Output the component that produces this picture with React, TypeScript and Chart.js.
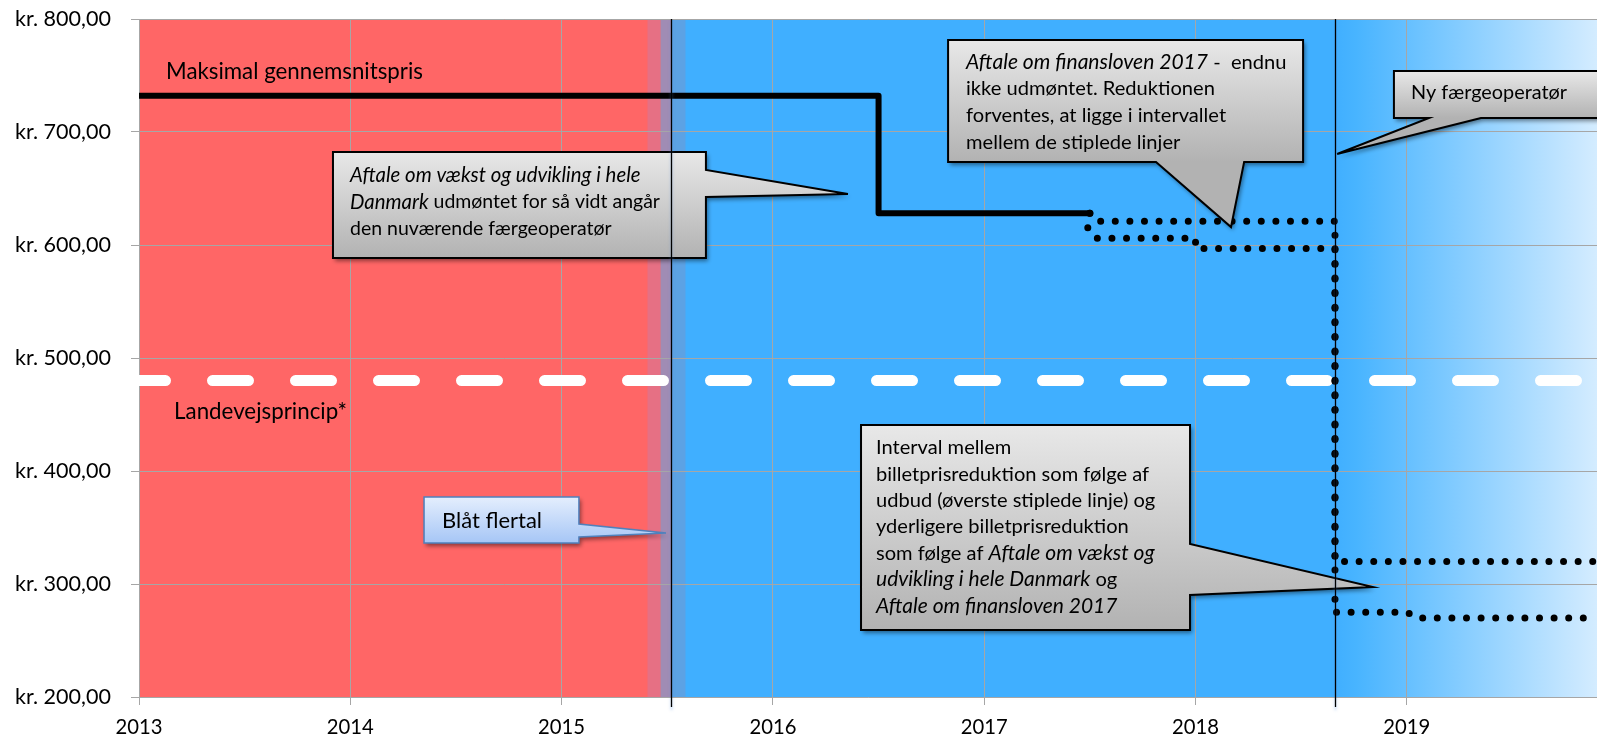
import React, { useEffect, useRef } from 'react';
import { Chart, registerables } from 'chart.js';

Chart.register(...registerables);

// ---------- data ----------
const xTickYears = [2013, 2014, 2015, 2016, 2017, 2018, 2019];
const xTickLabels = ['2013', '2014', '2015', '2016', '2017', '2018', '2019'];
const yTickValues = [200, 300, 400, 500, 600, 700, 800];
const yTickLabels = ['kr. 200,00', 'kr. 300,00', 'kr. 400,00', 'kr. 500,00', 'kr. 600,00', 'kr. 700,00', 'kr. 800,00'];
const xRange = [2013, 2019.9];
const yRange = [200, 800];

// Maksimal gennemsnitspris (solid)
const maxPriceX = [2013, 2016.5, 2016.5, 2017.5];
const maxPriceY = [732, 732, 628, 628];
// upper dotted (udbud)
const upperX = [2017.5, 2017.53, 2018.66, 2018.66, 2019.9];
const upperY = [628, 621, 621, 320, 320];
// lower dotted (udbud + aftaler)
const lowerX = [2017.5, 2017.49, 2017.53, 2018.0, 2018.0, 2018.66, 2018.66, 2019.0, 2019.05, 2019.9];
const lowerY = [628, 615, 606, 606, 597, 597, 275, 275, 270, 270];
// Landevejsprincip (dashed)
const roadX = [2013, 2019.9];
const roadY = [480, 480];
// periods: red until election, blue until new operator, then fade
const eventYears = [2015.52, 2018.66];

// ---------- annotations (positions in data units) ----------
type Run = [string, boolean];
type Callout = {
  box: [number, number, number, number]; // x1, yTop, x2, yBottom
  ptr: { side: 'right' | 'bottom'; a: number; b: number; tip: [number, number] };
  text: [number, number];
  lineH: number;
  fit: [number, number]; // line index, target width in px (for font sizing)
  lines: Run[][];
  blue?: boolean;
};

const callouts: Callout[] = [
  {
    box: [2013.918, 682.3, 2015.683, 588.5],
    ptr: { side: 'right', a: 666.4, b: 642.5, tip: [2016.355, 645.1] },
    text: [2013.999, 661.9],
    lineH: 27,
    fit: [1, 310],
    lines: [
      [['Aftale om vækst og udvikling i hele', true]],
      [['Danmark', true], [' udmøntet for så vidt angår', false]],
      [['den nuværende færgeoperatør', false]],
    ],
  },
  {
    box: [2016.829, 781.4, 2018.509, 673.5],
    ptr: { side: 'bottom', a: 2017.813, b: 2018.23, tip: [2018.168, 615.9] },
    text: [2016.914, 761.9],
    lineH: 26.7,
    fit: [1, 249],
    lines: [
      [['Aftale om finansloven 2017', true], [' -  endnu', false]],
      [['ikke udmøntet. Reduktionen', false]],
      [['forventes, at ligge i intervallet', false]],
      [['mellem de stiplede linjer', false]],
    ],
  },
  {
    box: [2018.939, 754.0, 2020.2, 712.4],
    ptr: { side: 'bottom', a: 2019.105, b: 2019.351, tip: [2018.67, 680.5] },
    text: [2019.02, 734.5],
    lineH: 26,
    fit: [0, 156],
    lines: [[['Ny færgeoperatør', false]]],
  },
  {
    box: [2016.417, 440.7, 2017.974, 259.3],
    ptr: { side: 'right', a: 335.4, b: 290.3, tip: [2018.84, 297.3] },
    text: [2016.488, 420.4],
    lineH: 26.3,
    fit: [1, 273],
    lines: [
      [['Interval mellem', false]],
      [['billetprisreduktion som følge af', false]],
      [['udbud (øverste stiplede linje) og', false]],
      [['yderligere billetprisreduktion', false]],
      [['som følge af ', false], ['Aftale om vækst og', true]],
      [['udvikling i hele Danmark', true], [' og', false]],
      [['Aftale om finansloven 2017', true]],
    ],
  },
  {
    box: [2014.349, 377.0, 2015.082, 336.3],
    ptr: { side: 'right', a: 353.1, b: 341.6, tip: [2015.494, 345.1] },
    text: [2014.434, 355.8],
    lineH: 26,
    fit: [0, 100],
    lines: [[['Blåt flertal', false]]],
    blue: true,
  },
];

const freeLabels: { text: string; at: [number, number]; width: number }[] = [
  { text: 'Maksimal gennemsnitspris', at: [2013.128, 753.1], width: 257 },
  { text: 'Landevejsprincip*', at: [2013.166, 452.2], width: 173 },
];

// ---------- styles ----------
const FONT = 'Lato, "Open Sans", sans-serif';
const Y_LABEL_WIDTH = 96; // width of "kr. 800,00" in px
const X_LABEL_WIDTH = 47; // width of "2013" in px
const ITALIC_CAL: [string, number] = ['Aftale om vækst og udvikling i hele', 303];
const REGULAR_CAL: [string, number] = ['den nuværende færgeoperatør', 273];
const RED = 'rgb(255,102,102)';
const BLUE = 'rgb(64,175,255)';
const GRID = '#a6a6a6';

const pts = (xs: number[], ys: number[]) => xs.map((x, i) => ({ x, y: ys[i] }));

function fontOf(size: number, italic: boolean, itScale: number) {
  return italic ? `italic ${(size * itScale).toFixed(2)}px ${FONT}` : `${size.toFixed(2)}px ${FONT}`;
}

function runsWidth(ctx: CanvasRenderingContext2D, runs: Run[], size: number, itScale: number) {
  let w = 0;
  for (const [t, it] of runs) {
    ctx.font = fontOf(size, it, itScale);
    w += ctx.measureText(t).width;
  }
  return w;
}

function fitSize(ctx: CanvasRenderingContext2D, runs: Run[], target: number, itScale: number, fallback: number) {
  const base = 20;
  const w = runsWidth(ctx, runs, base, itScale);
  if (!w || !isFinite(w)) return fallback;
  const s = (base * target) / w;
  return Math.min(Math.max(s, fallback * 0.75), fallback * 1.3);
}

function drawRuns(ctx: CanvasRenderingContext2D, runs: Run[], x: number, y: number, size: number, itScale: number) {
  let cx = x;
  for (const [t, it] of runs) {
    ctx.font = fontOf(size, it, itScale);
    ctx.fillText(t, cx, y);
    cx += ctx.measureText(t).width;
  }
}

export default function App() {
  const ref = useRef<HTMLCanvasElement>(null);

  useEffect(() => {
    document.body.style.margin = '0';
    const canvas = ref.current!;
    const mctx = canvas.getContext('2d')!;

    // font sizing from reference text widths
    const regCal = fitSize(mctx, [[REGULAR_CAL[0], false]], REGULAR_CAL[1], 1, 19.5);
    const itCal = fitSize(mctx, [[ITALIC_CAL[0], true]], ITALIC_CAL[1], 1, 18.5);
    const itScale = Math.min(Math.max(itCal / regCal, 0.8), 1.1);
    const calloutSizes = callouts.map((c) => fitSize(mctx, c.lines[c.fit[0]], c.fit[1], itScale, 19.5));
    const labelSizes = freeLabels.map((l) => fitSize(mctx, [[l.text, false]], l.width, 1, 21));
    const yFont = fitSize(mctx, [[yTickLabels[yTickLabels.length - 1], false]], Y_LABEL_WIDTH, 1, 22);
    const xFont = fitSize(mctx, [[xTickLabels[0], false]], X_LABEL_WIDTH, 1, 22);

    const bgPlugin = {
      id: 'bgPeriods',
      beforeDraw(chart: any) {
        const { ctx, chartArea: a, scales } = chart;
        const X = (v: number) => scales.x.getPixelForValue(v);
        const h = a.bottom - a.top;
        const e1 = X(eventYears[0]);
        const e2 = X(eventYears[1]);
        ctx.save();
        ctx.fillStyle = '#fff';
        ctx.fillRect(0, 0, chart.width, chart.height);
        ctx.fillStyle = RED;
        ctx.fillRect(a.left, a.top, e1 - a.left, h);
        ctx.fillStyle = BLUE;
        ctx.fillRect(e1, a.top, e2 - e1, h);
        ctx.fillStyle = 'rgb(230,112,132)';
        ctx.fillRect(e1 - 24, a.top, 13, h);
        ctx.fillStyle = 'rgb(160,140,180)';
        ctx.fillRect(e1 - 11, a.top, 11, h);
        ctx.fillStyle = 'rgb(92,162,228)';
        ctx.fillRect(e1, a.top, 14, h);
        const g = ctx.createLinearGradient(e2, 0, a.right, 0);
        g.addColorStop(0, BLUE);
        g.addColorStop(0.08, 'rgb(72,180,255)');
        g.addColorStop(1, 'rgb(212,236,255)');
        ctx.fillStyle = g;
        ctx.fillRect(e2, a.top, a.right - e2, h);
        ctx.restore();
      },
    };

    const annoPlugin = {
      id: 'annotations',
      afterDatasetsDraw(chart: any) {
        const { ctx, scales } = chart;
        const X = (v: number) => scales.x.getPixelForValue(v);
        const Y = (v: number) => scales.y.getPixelForValue(v);
        ctx.save();
        ctx.textBaseline = 'middle';
        ctx.fillStyle = '#000';
        freeLabels.forEach((l, i) => {
          ctx.font = fontOf(labelSizes[i], false, 1);
          ctx.fillText(l.text, X(l.at[0]), Y(l.at[1]));
        });
        callouts.forEach((c, ci) => {
          const x1 = X(c.box[0]), y1 = Y(c.box[1]), x2 = X(c.box[2]), y2 = Y(c.box[3]);
          const tx = X(c.ptr.tip[0]), ty = Y(c.ptr.tip[1]);
          ctx.beginPath();
          ctx.moveTo(x1, y1);
          ctx.lineTo(x2, y1);
          if (c.ptr.side === 'right') {
            ctx.lineTo(x2, Y(c.ptr.a));
            ctx.lineTo(tx, ty);
            ctx.lineTo(x2, Y(c.ptr.b));
            ctx.lineTo(x2, y2);
            ctx.lineTo(x1, y2);
          } else {
            ctx.lineTo(x2, y2);
            ctx.lineTo(X(c.ptr.b), y2);
            ctx.lineTo(tx, ty);
            ctx.lineTo(X(c.ptr.a), y2);
            ctx.lineTo(x1, y2);
          }
          ctx.closePath();
          const g = ctx.createLinearGradient(0, y1, 0, y2);
          if (c.blue) {
            g.addColorStop(0, 'rgb(228,238,253)');
            g.addColorStop(1, 'rgb(166,198,246)');
          } else {
            g.addColorStop(0, 'rgb(232,232,232)');
            g.addColorStop(1, 'rgb(178,178,178)');
          }
          ctx.save();
          ctx.shadowColor = 'rgba(0,0,0,0.45)';
          ctx.shadowBlur = 4;
          ctx.shadowOffsetX = 2;
          ctx.shadowOffsetY = 3;
          ctx.fillStyle = g;
          ctx.fill();
          ctx.restore();
          ctx.lineWidth = c.blue ? 1.5 : 2;
          ctx.strokeStyle = c.blue ? 'rgb(79,129,189)' : '#000';
          ctx.lineJoin = 'miter';
          ctx.stroke();
          ctx.fillStyle = '#000';
          const bx = X(c.text[0]);
          let by = Y(c.text[1]);
          for (const line of c.lines) {
            drawRuns(ctx, line, bx, by, calloutSizes[ci], itScale);
            by += c.lineH;
          }
        });
        ctx.restore();
      },
    };

    const eventPlugin = {
      id: 'eventLines',
      afterDatasetsDraw(chart: any) {
        const { ctx, chartArea: a, scales } = chart;
        ctx.save();
        for (const ev of eventYears) {
          const x = Math.round(scales.x.getPixelForValue(ev)) + 0.5;
          ctx.strokeStyle = '#000';
          ctx.lineWidth = 1.3;
          ctx.shadowColor = 'rgba(90,150,230,0.5)';
          ctx.shadowBlur = 3;
          ctx.shadowOffsetY = 3;
          ctx.beginPath();
          ctx.moveTo(x, a.top);
          ctx.lineTo(x, a.bottom + 10);
          ctx.stroke();
        }
        ctx.restore();
      },
    };

    const chart = new Chart(canvas, {
      type: 'line',
      data: {
        datasets: [
          {
            label: 'Maksimal gennemsnitspris',
            data: pts(maxPriceX, maxPriceY),
            borderColor: '#000',
            borderWidth: 6,
            borderJoinStyle: 'round',
            borderCapStyle: 'round',
            pointRadius: 0,
            tension: 0,
          },
          {
            label: 'Udbud',
            data: pts(upperX, upperY),
            borderColor: '#000',
            borderWidth: 7,
            borderDash: [0, 14.6],
            borderCapStyle: 'round',
            pointRadius: 0,
            tension: 0,
          },
          {
            label: 'Udbud + aftaler',
            data: pts(lowerX, lowerY),
            borderColor: '#000',
            borderWidth: 7,
            borderDash: [0, 14.6],
            borderCapStyle: 'round',
            pointRadius: 0,
            tension: 0,
          },
          {
            label: 'Landevejsprincip',
            data: pts(roadX, roadY),
            borderColor: '#fff',
            borderWidth: 11,
            borderDash: [36, 47],
            borderDashOffset: 9.5,
            borderCapStyle: 'round',
            pointRadius: 0,
            tension: 0,
          },
        ],
      },
      options: {
        responsive: false,
        animation: false,
        layout: { padding: { top: 19, right: 0, bottom: 0, left: 0 } },
        plugins: { legend: { display: false }, tooltip: { enabled: false } },
        scales: {
          x: {
            type: 'linear',
            min: xRange[0],
            max: xRange[1],
            afterBuildTicks: (s: any) => {
              s.ticks = xTickYears.map((v) => ({ value: v }));
            },
            afterFit: (s: any) => {
              s.height = 40;
            },
            ticks: {
              autoSkip: false,
              maxRotation: 0,
              padding: 10,
              color: '#000',
              font: { family: FONT, size: xFont },
              callback: (v: any) => {
                const i = xTickYears.indexOf(Number(v));
                return i >= 0 ? xTickLabels[i] : '';
              },
            },
            grid: { color: GRID, lineWidth: 1, tickLength: 8, drawOnChartArea: true },
            border: { display: true, color: GRID, width: 1 },
          },
          y: {
            type: 'linear',
            min: yRange[0],
            max: yRange[1],
            afterBuildTicks: (s: any) => {
              s.ticks = yTickValues.map((v) => ({ value: v }));
            },
            afterFit: (s: any) => {
              s.width = 139;
              s.paddingTop = 0;
              s.paddingBottom = 0;
            },
            ticks: {
              padding: 20,
              color: '#000',
              font: { family: FONT, size: yFont },
              callback: (v: any) => {
                const i = yTickValues.indexOf(Number(v));
                return i >= 0 ? yTickLabels[i] : '';
              },
            },
            grid: { color: GRID, lineWidth: 1, tickLength: 8 },
            border: { display: true, color: GRID, width: 1 },
          },
        },
      },
      plugins: [bgPlugin, annoPlugin, eventPlugin],
    } as any);

    return () => chart.destroy();
  }, []);

  return (
    <div style={{ position: 'absolute', left: 0, top: 0, width: 1597, height: 737 }}>
      <canvas ref={ref} width={1597} height={737} />
    </div>
  );
}
